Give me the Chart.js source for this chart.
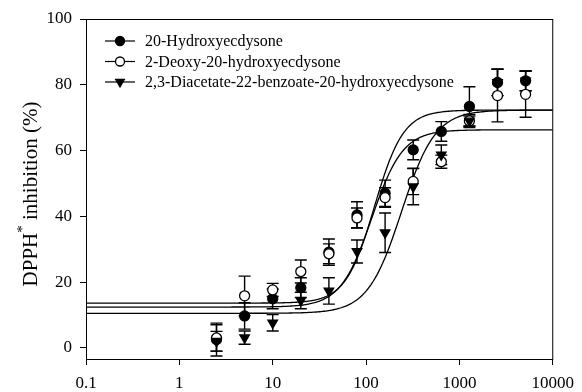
<!DOCTYPE html>
<html>
<head>
<meta charset="utf-8">
<script src="https://cdn.jsdelivr.net/npm/chart.js@4"></script>
<style>
  html, body { margin: 0; padding: 0; background: #fff; }
  #wrap { width: 582px; height: 392px; }
</style>
</head>
<body>
<div id="wrap"><canvas id="chart" width="582" height="392"></canvas></div>
<script>
// concentrations (log axis)
const conc = [2.5, 5, 10, 20, 40, 80, 160, 320, 640, 1280, 2560, 5120];

const labels = ['20-Hydroxyecdysone', '2-Deoxy-20-hydroxyecdysone', '2,3-Diacetate-22-benzoate-20-hydroxyecdysone'];

// mean inhibition values
const hydroxy = [2.5, 9.7, 14.9, 18.3, 29.1, 40.4, 47.0, 60.2, 65.8, 73.4, 80.7, 81.2];
const deoxy   = [3.0, 15.8, 17.6, 23.2, 28.6, 39.5, 45.7, 50.6, 56.6, 69.0, 76.7, 77.1];
const diacet  = [2.0, 3.1, 7.6, 14.4, 17.3, 29.3, 35.0, 49.0, 58.7, 69.0, 80.7, 81.2];

// error bar half widths
const hydroxyErr = [5, 4, 3, 3, 4, 4, 4, 3, 3, 6, 4, 3];
const deoxyErr   = [4, 6, 2, 3.5, 3, 3, 3, 4, 2, 2, 8, 7];
const diacetErr  = [3, 2, 2.5, 2.5, 4, 3.5, 6, 5.5, 3, 1.5, 4, 3];

// sigmoid fit parameters per series: bottom, top, log10 EC50, hill slope
const fitBottom = [13.6, 12.4, 10.5];
const fitTop    = [72.3, 66.3, 72.3];
const fitLogEC  = [2.09, 2.06, 2.38];
const fitHill   = [2.8, 2.6, 2.4];

const xTicks = [0.1, 1, 10, 100, 1000, 10000];
const xTickLabels = ['0.1', '1', '10', '100', '1000', '10000'];
const yTicks = [0, 20, 40, 60, 80, 100];

const FONT = 'Liberation Serif';

function fitLine(i) {
    const pts = [];
    for (let k = 0; k <= 300; k++) {
        const lx = -1 + k * 5 / 300;
        const y = fitBottom[i] + (fitTop[i] - fitBottom[i]) / (1 + Math.pow(10, fitHill[i] * (fitLogEC[i] - lx)));
        pts.push({x: Math.pow(10, lx), y: y});
    }
    return pts;
}

function pts(vals, errs) {
    return conc.map((c, i) => ({x: c, y: vals[i], err: errs[i]}));
}

const markerStyles = [
    {pointStyle: 'circle', backgroundColor: '#000', radius: 5, rotation: 0},
    {pointStyle: 'circle', backgroundColor: '#fff', radius: 5, rotation: 0},
    {pointStyle: 'triangle', backgroundColor: '#000', radius: 5.5, rotation: 180}
];

const series = [pts(hydroxy, hydroxyErr), pts(deoxy, deoxyErr), pts(diacet, diacetErr)];

const datasets = [];
for (let i = 0; i < 3; i++) {
    datasets.push({
        label: labels[i] + ' fit',
        data: fitLine(i),
        showLine: true,
        pointRadius: 0,
        borderColor: '#000',
        borderWidth: 1.3,
        fill: false,
        order: 10
    });
}
for (let i = 2; i >= 0; i--) {
    datasets.push({
        label: labels[i],
        data: series[i],
        showLine: false,
        pointStyle: markerStyles[i].pointStyle,
        rotation: markerStyles[i].rotation,
        pointRadius: markerStyles[i].radius,
        pointBackgroundColor: markerStyles[i].backgroundColor,
        pointBorderColor: '#000',
        pointBorderWidth: 1.3,
        errorBars: true
    });
}

const errorBarPlugin = {
    id: 'errorBars',
    beforeDatasetsDraw(chart) {
        const ctx = chart.ctx;
        const xs = chart.scales.x, ys = chart.scales.y;
        ctx.save();
        ctx.strokeStyle = '#000';
        ctx.lineWidth = 1.4;
        chart.data.datasets.forEach(ds => {
            if (!ds.errorBars) return;
            ds.data.forEach(p => {
                const px = xs.getPixelForValue(p.x);
                const top = ys.getPixelForValue(p.y + p.err);
                const bot = ys.getPixelForValue(p.y - p.err);
                ctx.beginPath();
                ctx.moveTo(px, top); ctx.lineTo(px, bot);
                ctx.moveTo(px - 6, top); ctx.lineTo(px + 6, top);
                ctx.moveTo(px - 6, bot); ctx.lineTo(px + 6, bot);
                ctx.stroke();
            });
        });
        ctx.restore();
    }
};

const framePlugin = {
    id: 'frame',
    afterDraw(chart) {
        const ctx = chart.ctx;
        const a = chart.chartArea;
        ctx.save();
        ctx.strokeStyle = '#000';
        ctx.lineWidth = 1;
        ctx.strokeRect(a.left + 0.5, a.top + 0.5, a.right - a.left - 0.5, a.bottom - a.top);

        // legend inside the plot
        ctx.font = '16px "' + FONT + '"';
        ctx.textBaseline = 'middle';
        for (let i = 0; i < 3; i++) {
            const y = a.top + 22 + i * 20.5;
            const x0 = a.left + 19, x1 = a.left + 49, xm = (x0 + x1) / 2;
            ctx.strokeStyle = '#000';
            ctx.lineWidth = 1.2;
            ctx.beginPath();
            ctx.moveTo(x0, y); ctx.lineTo(x1, y);
            ctx.stroke();
            const m = markerStyles[i];
            ctx.lineWidth = 1.3;
            ctx.fillStyle = m.backgroundColor;
            Chart.helpers.drawPoint(ctx, {
                pointStyle: m.pointStyle, radius: m.radius - 0.5, rotation: m.rotation, borderWidth: 1.3
            }, xm, y);
            ctx.fillStyle = '#000';
            ctx.fillText(labels[i], a.left + 59, y + 1);
        }

        // y axis title with superscript asterisk
        ctx.save();
        ctx.translate(30, 194);
        ctx.rotate(-Math.PI / 2);
        const big = '21px "' + FONT + '"', small = '15px "' + FONT + '"';
        ctx.font = big;
        const w1 = ctx.measureText('DPPH').width;
        const w3 = ctx.measureText(' inhibition (%)').width;
        ctx.font = small;
        const w2 = ctx.measureText('*').width;
        let x = -(w1 + w2 + w3) / 2;
        ctx.fillStyle = '#000';
        ctx.textBaseline = 'alphabetic';
        ctx.textAlign = 'left';
        ctx.font = big;
        ctx.fillText('DPPH', x, 7); x += w1;
        ctx.font = small;
        ctx.fillText('*', x, -3); x += w2;
        ctx.font = big;
        ctx.fillText(' inhibition (%)', x, 7);
        ctx.restore();
        ctx.restore();
    }
};

new Chart(document.getElementById('chart').getContext('2d'), {
    type: 'scatter',
    data: {datasets: datasets},
    options: {
        responsive: false,
        animation: false,
        layout: {padding: {left: 0, top: 19, right: 23, bottom: 0}},
        plugins: {legend: {display: false}, tooltip: {enabled: false}},
        scales: {
            x: {
                type: 'logarithmic',
                min: 0.1,
                max: 10000,
                afterBuildTicks: s => { s.ticks = xTicks.map(v => ({value: v})); },
                afterFit: s => { s.height = 33; },
                ticks: {
                    autoSkip: false,
                    maxRotation: 0,
                    color: '#000',
                    font: {family: FONT, size: 17},
                    padding: 8,
                    callback: (v) => xTickLabels[xTicks.indexOf(v)]
                },
                grid: {drawOnChartArea: false, drawTicks: true, tickLength: 6, color: '#000'},
                border: {color: '#000', width: 1}
            },
            y: {
                min: -3.4,
                max: 100,
                afterBuildTicks: s => { s.ticks = yTicks.map(v => ({value: v})); },
                afterFit: s => { s.width = 86; },
                ticks: {
                    color: '#000',
                    font: {family: FONT, size: 17},
                    padding: 8
                },
                grid: {drawOnChartArea: false, drawTicks: true, tickLength: 6, color: '#000'},
                border: {color: '#000', width: 1}
            }
        }
    },
    plugins: [errorBarPlugin, framePlugin]
});
</script>
</body>
</html>
